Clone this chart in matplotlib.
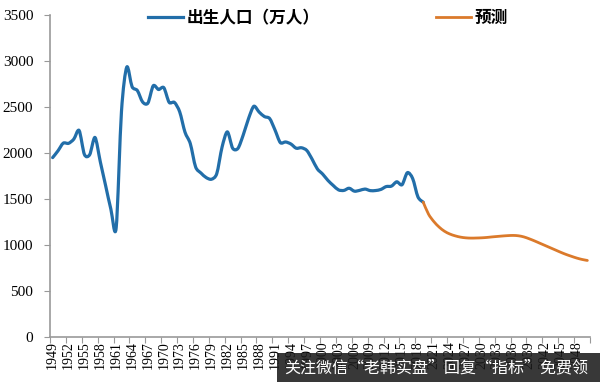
import numpy as np
import matplotlib.pyplot as plt
from matplotlib.path import Path
from matplotlib.patches import PathPatch, Rectangle
from matplotlib.lines import Line2D

BLUE, ORANGE = "#226ea9", "#db7a2b"
CJK = ["Noto Sans CJK SC", "DejaVu Sans"]

# births (10k people), 1949-2019
years_hist = list(range(1949, 2020))
births = [1950, 2023, 2107, 2105, 2151, 2245, 1984, 1982, 2169, 1905,
          1647, 1389, 1187, 2451, 2934, 2721, 2679, 2554, 2543, 2731,
          2690, 2710, 2551, 2550, 2447, 2226, 2102, 1849, 1783, 1733,
          1715, 1776, 2064, 2230, 2052, 2050, 2196, 2374, 2508, 2445,
          2396, 2374, 2250, 2113, 2120, 2098, 2052, 2057, 2028, 1934,
          1827, 1771, 1702, 1647, 1599, 1593, 1617, 1585, 1594, 1608,
          1591, 1592, 1604, 1635, 1640, 1687, 1655, 1786, 1723, 1523,
          1465]

# forecast 2019-2050
years_fc = list(range(2019, 2051))
forecast = [1465, 1335, 1255, 1195, 1150, 1120, 1100, 1086, 1078, 1075,
            1076, 1078, 1082, 1088, 1093, 1098, 1102, 1104, 1100, 1088,
            1068, 1045, 1020, 995, 970, 945, 920, 897, 877, 858,
            843, 832]

all_years = list(range(1949, 2051))
labels = [str(y) for y in all_years[::3]]


def smooth_path(xs, ys, k=1 / 7):
    # cubic bezier through the points, like a spreadsheet "smoothed line"
    p = np.column_stack([xs, ys]).astype(float)
    ext = np.vstack([p[0], p, p[-1]])
    verts, codes = [tuple(p[0])], [Path.MOVETO]
    for i in range(len(p) - 1):
        a, b, c, d = ext[i], ext[i + 1], ext[i + 2], ext[i + 3]
        verts += [tuple(b + (c - a) * k), tuple(c - (d - b) * k), tuple(c)]
        codes += [Path.CURVE4] * 3
    return Path(verts, codes)


fig = plt.figure(figsize=(6, 3.82), dpi=100)
ax = fig.add_axes([50 / 600, 45 / 382, 540 / 600, 322 / 382])

x_hist = [all_years.index(y) for y in years_hist]
x_fc = [all_years.index(y) for y in years_fc]
ax.add_patch(PathPatch(smooth_path(x_hist, births), fill=False, edgecolor=BLUE,
                       lw=2.3, capstyle="round", joinstyle="round"))
ax.add_patch(PathPatch(smooth_path(x_fc, forecast), fill=False, edgecolor=ORANGE,
                       lw=2.0, capstyle="round", joinstyle="round"))

ax.set_xlim(-0.5, len(all_years) - 0.5)
ax.set_ylim(0, 3500)
ax.set_yticks(range(0, 3501, 500))
ax.set_xticks(np.arange(-0.5, len(all_years), 3))
ax.set_xticklabels([])
ax.set_xticks(np.arange(0, len(all_years), 3), minor=True)
ax.set_xticklabels(labels, minor=True, rotation=90, family="Liberation Serif", fontsize=10)
ax.tick_params(axis="x", which="minor", length=0, pad=3)
ax.tick_params(axis="x", which="major", length=4, color="#999999", direction="out")
ax.tick_params(axis="y", length=4, color="#999999", direction="out", pad=8)
for t in ax.get_yticklabels():
    t.set_family("Liberation Serif"); t.set_fontsize(11)
for s in ["top", "right"]:
    ax.spines[s].set_visible(False)
for s in ["left", "bottom"]:
    ax.spines[s].set_color("#999999"); ax.spines[s].set_linewidth(1.2)

handles = [Line2D([], [], color=BLUE, lw=2.3), Line2D([], [], color=ORANGE, lw=2.0)]
leg = fig.legend(handles, ["出生人口（万人）", "预测"], ncol=2, loc="center",
                 bbox_to_anchor=(328 / 600, 1 - 18 / 382), frameon=False,
                 handlelength=2.1, handletextpad=0.2, columnspacing=7.0,
                 prop={"family": CJK, "size": 12, "weight": "bold"})

# watermark banner over the bottom right
fig.patches.append(Rectangle((277 / 600, 0), 323 / 600, 29 / 382, transform=fig.transFigure,
                             facecolor="#1c1c1c", alpha=0.88, zorder=5))
fig.text(436 / 600, 14 / 382, "关注微信“老韩实盘”回复“指标”免费领", color="white",
         ha="center", va="center", family=CJK, fontsize=11.5, zorder=6)

fig.savefig("out.png", dpi=100)
